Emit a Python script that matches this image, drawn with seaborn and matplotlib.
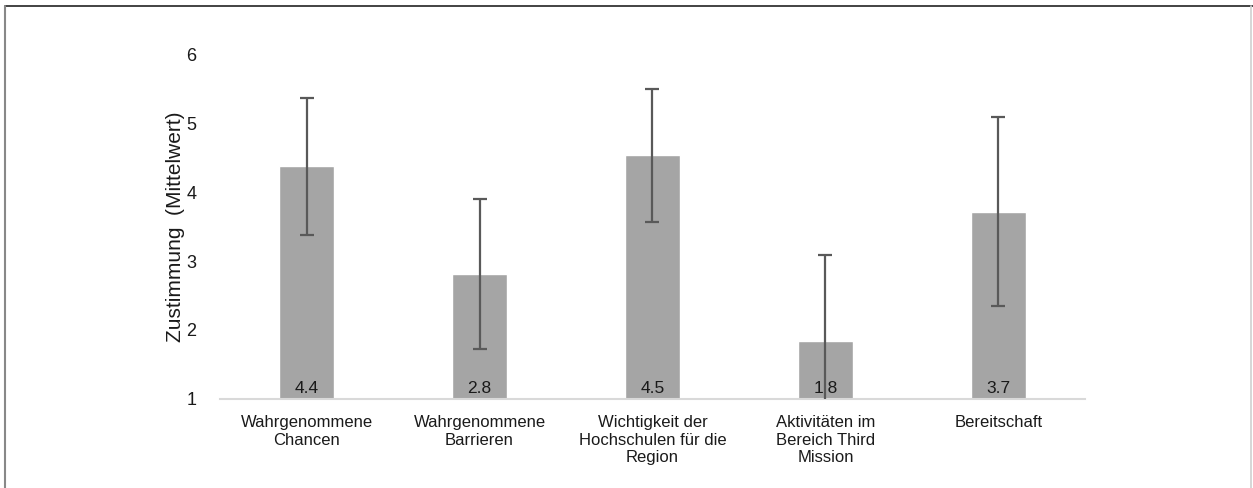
import matplotlib
matplotlib.use("Agg")
import matplotlib.pyplot as plt
import seaborn as sns
import numpy as np
from matplotlib.lines import Line2D

categories = ["Wahrgenommene\nChancen", "Wahrgenommene\nBarrieren",
              "Wichtigkeit der\nHochschulen für die\nRegion",
              "Aktivitäten im\nBereich Third\nMission", "Bereitschaft"]
means = [4.38, 2.81, 4.54, 1.84, 3.72]
sds = [1.00, 1.09, 0.97, 1.25, 1.38]
yticks = [1, 2, 3, 4, 5, 6]
ylabel = "Zustimmung  (Mittelwert)"

sns.set_theme(style="white")
plt.rcParams["font.family"] = ["Liberation Sans", "DejaVu Sans"]

fig = plt.figure(figsize=(12.53, 4.88), dpi=100)
ax = fig.add_axes([0.1756, 0.1834, 0.6903, 0.7039])

sns.barplot(x=list(range(len(means))), y=means, color="#A5A5A5", saturation=1,
            width=0.32, ax=ax, zorder=2)
ax.errorbar(x=np.arange(len(means)), y=means, yerr=sds, fmt="none",
            ecolor="#595959", elinewidth=1.6, capsize=5, capthick=1.6, zorder=4)

for i, m in enumerate(means):
    ax.annotate(f"{m:.1f}", xy=(i, 1), xytext=(0, 1.5), textcoords="offset points",
                ha="center", va="bottom", fontsize=12.5, color="#1a1a1a", zorder=3)

ax.set_ylim(1, 6)
ax.set_xlim(-0.5, len(means) - 0.5)
ax.set_yticks(yticks)
ax.set_yticklabels([str(t) for t in yticks], fontsize=13, color="#1a1a1a")
ax.set_xticks(range(len(categories)))
ax.set_xticklabels(categories, fontsize=12, color="#1a1a1a", linespacing=1.2,
                   multialignment="center")
ax.tick_params(axis="y", length=0, pad=17)
ax.tick_params(axis="x", length=0, pad=12)
ax.set_ylabel(ylabel, fontsize=15, color="#1a1a1a", labelpad=1)
ax.set_xlabel("")
for s in ["top", "right", "left"]:
    ax.spines[s].set_visible(False)
ax.spines["bottom"].set_color("#D9D9D9")
ax.spines["bottom"].set_linewidth(1.5)
ax.grid(False)

# outer frame
fig.add_artist(Line2D([5 / 1253, 1], [1 - 6 / 488, 1 - 6 / 488], transform=fig.transFigure,
                      color="#222222", lw=1.2))
fig.add_artist(Line2D([5 / 1253, 5 / 1253], [0, 1 - 6 / 488], transform=fig.transFigure,
                      color="#888888", lw=1.5))
fig.add_artist(Line2D([1251 / 1253, 1251 / 1253], [0, 1 - 6 / 488], transform=fig.transFigure,
                      color="#D0D0D0", lw=1.2))

fig.savefig("out.png", dpi=100)
